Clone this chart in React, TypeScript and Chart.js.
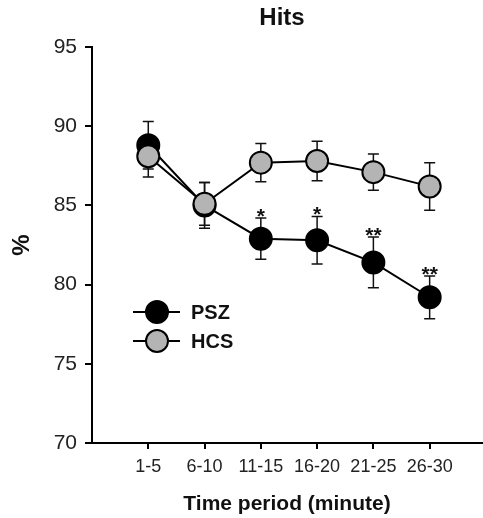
import React, { useEffect, useRef } from 'react';
import { Chart, registerables } from 'chart.js';

Chart.register(...registerables);

const categories = ['1-5', '6-10', '11-15', '16-20', '21-25', '26-30'];
const pszMean = [88.8, 85.0, 82.9, 82.8, 81.4, 79.2];
const pszErr = [1.5, 1.45, 1.3, 1.5, 1.6, 1.35];
const hcsMean = [88.1, 85.1, 87.7, 87.8, 87.1, 86.2];
const hcsErr = [1.3, 1.35, 1.2, 1.25, 1.15, 1.5];
const significance = ['', '', '*', '*', '**', '**'];
const seriesNames = ['PSZ', 'HCS'];
const yMin = 70;
const yMax = 95;
const yStep = 5;

const FONT = '"Liberation Sans", Arial, Helvetica, sans-serif';

const errorBarPlugin = {
  id: 'errorBars',
  beforeDatasetsDraw(chart: any) {
    const ctx = chart.ctx;
    const y = chart.scales.y;
    ctx.save();
    ctx.strokeStyle = '#111';
    ctx.lineWidth = 1.5;
    chart.data.datasets.forEach((ds: any, di: number) => {
      const meta = chart.getDatasetMeta(di);
      meta.data.forEach((pt: any, i: number) => {
        const m = ds.data[i].y;
        const e = ds.errors[i];
        const top = y.getPixelForValue(m + e);
        const bot = y.getPixelForValue(m - e);
        const x = pt.x;
        ctx.beginPath();
        ctx.moveTo(x, top);
        ctx.lineTo(x, bot);
        ctx.moveTo(x - 5.5, top);
        ctx.lineTo(x + 5.5, top);
        ctx.moveTo(x - 5.5, bot);
        ctx.lineTo(x + 5.5, bot);
        ctx.stroke();
      });
    });
    ctx.restore();
  },
  afterDatasetsDraw(chart: any) {
    const ctx = chart.ctx;
    const y = chart.scales.y;
    const meta = chart.getDatasetMeta(0);
    ctx.save();
    ctx.fillStyle = '#111';
    ctx.font = `bold 21px ${FONT}`;
    ctx.textAlign = 'center';
    ctx.textBaseline = 'alphabetic';
    meta.data.forEach((pt: any, i: number) => {
      if (!significance[i]) return;
      const top = y.getPixelForValue(pszMean[i] + pszErr[i]);
      ctx.fillText(significance[i], pt.x, top + 5);
    });
    ctx.restore();
  },
  afterDraw(chart: any) {
    const ctx = chart.ctx;
    const area = chart.chartArea;
    ctx.save();
    // Title
    ctx.fillStyle = '#111';
    ctx.font = `bold 24px ${FONT}`;
    ctx.textAlign = 'center';
    ctx.textBaseline = 'middle';
    ctx.fillText('Hits', area.left + 190, 18);
    // Legend
    const lx = area.left + 41;
    const ly = area.top + 265;
    chart.data.datasets.forEach((ds: any, i: number) => {
      const yy = ly + i * 29;
      ctx.strokeStyle = '#000';
      ctx.lineWidth = 2;
      ctx.beginPath();
      ctx.moveTo(lx, yy);
      ctx.lineTo(lx + 47, yy);
      ctx.stroke();
      ctx.beginPath();
      ctx.arc(lx + 24, yy, 11, 0, Math.PI * 2);
      ctx.fillStyle = ds.pointBackgroundColor;
      ctx.fill();
      ctx.lineWidth = 2;
      ctx.strokeStyle = '#000';
      ctx.stroke();
      ctx.fillStyle = '#111';
      ctx.font = `bold 20px ${FONT}`;
      ctx.textAlign = 'left';
      ctx.textBaseline = 'middle';
      ctx.fillText(seriesNames[i], lx + 58, yy + 1);
    });
    ctx.restore();
  },
};

export default function App() {
  const ref = useRef<HTMLCanvasElement>(null);
  useEffect(() => {
    if (!ref.current) return;
    const chart = new Chart(ref.current, {
      type: 'line',
      data: {
        datasets: [
          {
            label: seriesNames[0],
            data: pszMean.map((v, i) => ({ x: i + 1, y: v })),
            errors: pszErr,
            borderColor: '#000',
            borderWidth: 2,
            pointBackgroundColor: '#000',
            pointBorderColor: '#000',
            pointBorderWidth: 2,
            pointRadius: 11,
            clip: false,
            order: 2,
          } as any,
          {
            label: seriesNames[1],
            data: hcsMean.map((v, i) => ({ x: i + 1, y: v })),
            errors: hcsErr,
            borderColor: '#000',
            borderWidth: 2,
            pointBackgroundColor: '#b4b4b4',
            pointBorderColor: '#000',
            pointBorderWidth: 2,
            pointRadius: 11,
            clip: false,
            order: 1,
          } as any,
        ],
      },
      options: {
        responsive: false,
        animation: false,
        layout: { autoPadding: false, padding: { top: 47, right: 1, left: 0, bottom: 0 } },
        plugins: {
          legend: { display: false },
          title: { display: false },
          tooltip: { enabled: false },
        },
        scales: {
          x: {
            type: 'linear',
            min: 0,
            max: 6.93,
            afterFit: (s: any) => {
              s.height = 75;
              s.paddingLeft = 0;
              s.paddingRight = 0;
            },
            afterBuildTicks: (s: any) => {
              s.ticks = categories.map((_, i) => ({ value: i + 1 }));
            },
            ticks: {
              autoSkip: false,
              maxRotation: 0,
              padding: 7,
              color: '#222',
              font: { family: FONT, size: 18 },
              callback: (v: any) => categories[Math.round(v) - 1] ?? '',
            },
            grid: {
              drawOnChartArea: false,
              drawTicks: true,
              tickLength: 6,
              color: '#000',
              lineWidth: 2,
            },
            border: { color: '#000', width: 2 },
            title: {
              display: true,
              text: 'Time period (minute)',
              color: '#111',
              font: { family: FONT, size: 21, weight: 'bold' },
              padding: { top: 0, bottom: 1 },
            },
          },
          y: {
            min: yMin,
            max: yMax,
            afterFit: (s: any) => {
              s.width = 92;
            },
            ticks: {
              stepSize: yStep,
              padding: 8,
              color: '#222',
              font: { family: FONT, size: 21 },
            },
            grid: {
              drawOnChartArea: false,
              drawTicks: true,
              tickLength: 7,
              color: '#000',
              lineWidth: 2,
            },
            border: { color: '#000', width: 2 },
            title: {
              display: true,
              text: '%',
              color: '#111',
              font: { family: FONT, size: 24, weight: 'bold' },
              padding: { top: 8, bottom: 0 },
            },
          },
        },
      } as any,
      plugins: [errorBarPlugin],
    });
    return () => chart.destroy();
  }, []);
  return (
    <div style={{ position: 'absolute', left: 0, top: 0, width: 483, height: 518, background: '#fff' }}>
      <canvas ref={ref} width={483} height={518} />
    </div>
  );
}
